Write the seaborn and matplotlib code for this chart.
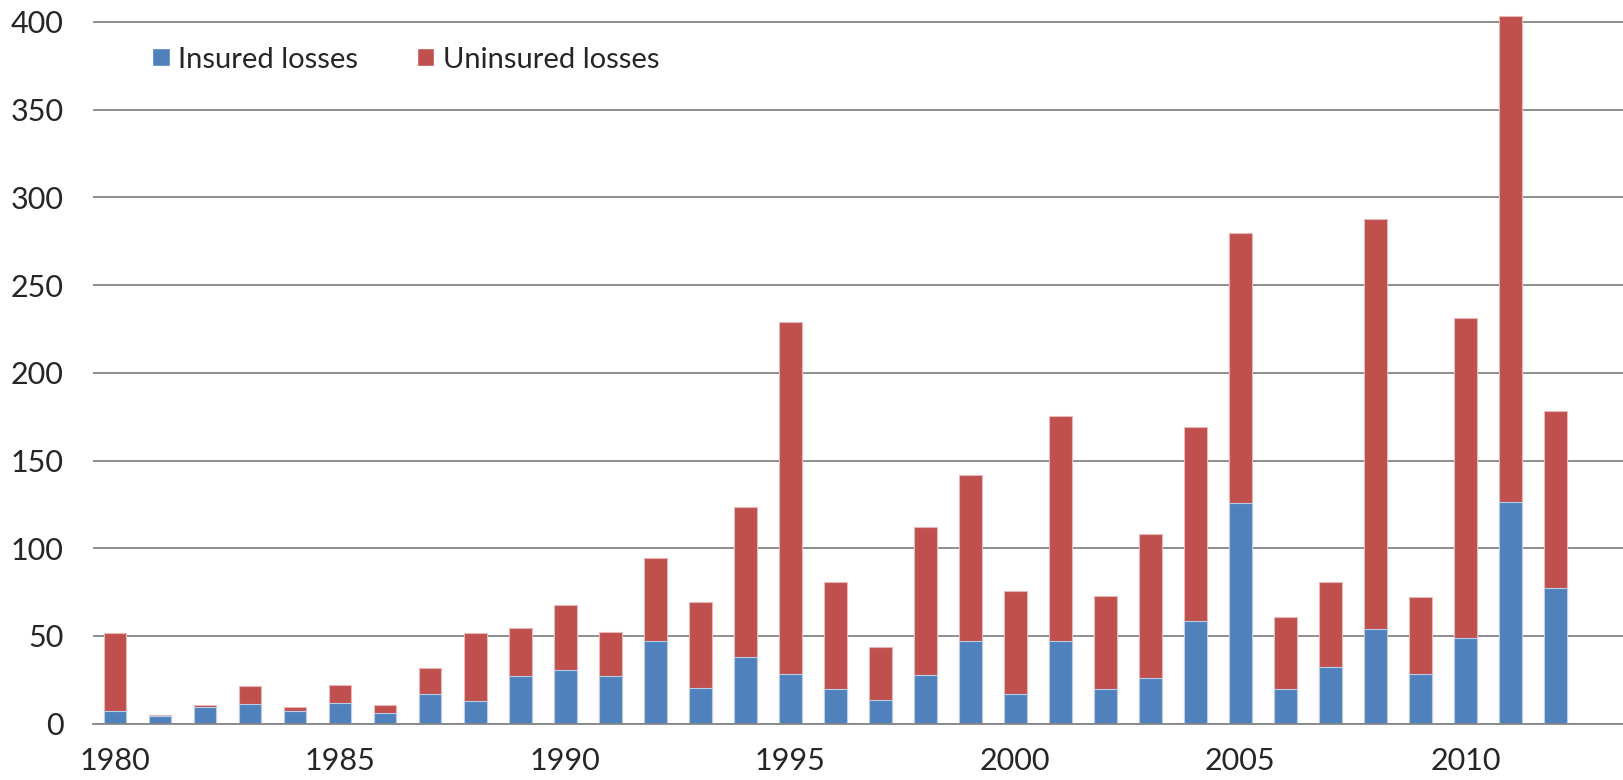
"""
Insured vs uninsured losses per year, stacked bar chart.
"""

import matplotlib
matplotlib.use("Agg")
import matplotlib.pyplot as plt
import numpy as np
import pandas as pd
import seaborn as sns
from matplotlib.patches import Patch

# values
years = list(range(1980, 2013))
insured = [7.5, 4.3, 9.7, 11.2, 7.3, 11.8, 6.1, 16.8, 13.2, 27.3,
           30.7, 27.3, 47.0, 20.3, 38.0, 28.2, 19.8, 13.5, 27.8, 47.2,
           16.7, 47.2, 19.7, 26.2, 58.4, 125.8, 19.8, 32.3, 53.7, 28.2,
           48.8, 126.4, 77.3]
uninsured = [44.0, 0.6, 0.7, 10.0, 2.2, 10.4, 4.7, 15.1, 38.5, 27.4,
             37.0, 25.2, 47.4, 49.3, 85.7, 200.8, 61.0, 30.2, 84.3, 94.7,
             59.2, 128.1, 52.8, 81.8, 110.5, 153.7, 41.1, 48.5, 233.8, 44.1,
             182.3, 276.9, 100.7]
label_years = [1980, 1985, 1990, 1995, 2000, 2005, 2010]
y_ticks = [0, 50, 100, 150, 200, 250, 300, 350, 400]

BLUE = "#4F81BD"
RED = "#C0504D"
GRID = "#868686"

sns.set_style("white")
plt.rcParams["font.family"] = ["Lato", "DejaVu Sans"]

df = pd.DataFrame({"year": [str(y) for y in years],
                   "insured": insured,
                   "uninsured": uninsured})
df["total"] = df["insured"] + df["uninsured"]

fig = plt.figure(figsize=(16.23, 7.80), dpi=100)
ax = fig.add_axes([0.0571, 0.0722, 0.9429, 0.9222])

# stacked: draw totals in red, then insured part in blue on top
sns.barplot(data=df, x="year", y="total", color=RED, width=0.5,
            saturation=1, edgecolor="#E6B9B8", linewidth=0.8, ax=ax, zorder=3)
sns.barplot(data=df, x="year", y="insured", color=BLUE, width=0.5,
            saturation=1, edgecolor="#B9CDE5", linewidth=0.8, ax=ax, zorder=4)

n = len(years)
ax.set_xlim(-0.5, n + 0.5)
ax.set_ylim(0, 410)
ax.set_yticks(y_ticks)
ax.set_yticklabels([str(v) for v in y_ticks])
ax.yaxis.grid(True, color=GRID, linewidth=1.3)
ax.set_axisbelow(True)

# tick marks between categories, labels at centres every five years
ax.set_xticks(np.arange(-0.5, n + 1.0, 1.0))
ax.set_xticklabels([])
ax.set_xticks([years.index(y) for y in label_years], minor=True)
ax.set_xticklabels([str(y) for y in label_years], minor=True)
ax.tick_params(axis="x", which="major", direction="out", length=7.2,
               width=1.3, color=GRID)
ax.tick_params(axis="x", which="minor", length=0, pad=17, labelsize=22)
ax.tick_params(axis="y", length=0, pad=21, labelsize=22)
ax.set_xlabel("")
ax.set_ylabel("")

for side in ["left", "right", "top"]:
    ax.spines[side].set_visible(False)
ax.spines["bottom"].set_color(GRID)
ax.spines["bottom"].set_linewidth(1.3)
ax.spines["bottom"].set_zorder(5)

handles = [Patch(facecolor=BLUE, label="Insured losses"),
           Patch(facecolor=RED, label="Uninsured losses")]
fig.legend(handles=handles, loc="center left", ncol=2, frameon=False,
           bbox_to_anchor=(152 / 1623, 1 - 59.5 / 780),
           fontsize=21, handlelength=0.6, handleheight=0.6,
           handletextpad=0.3, columnspacing=2.0, borderpad=0, borderaxespad=0)

fig.savefig("out.png", dpi=100)
plt.close(fig)
